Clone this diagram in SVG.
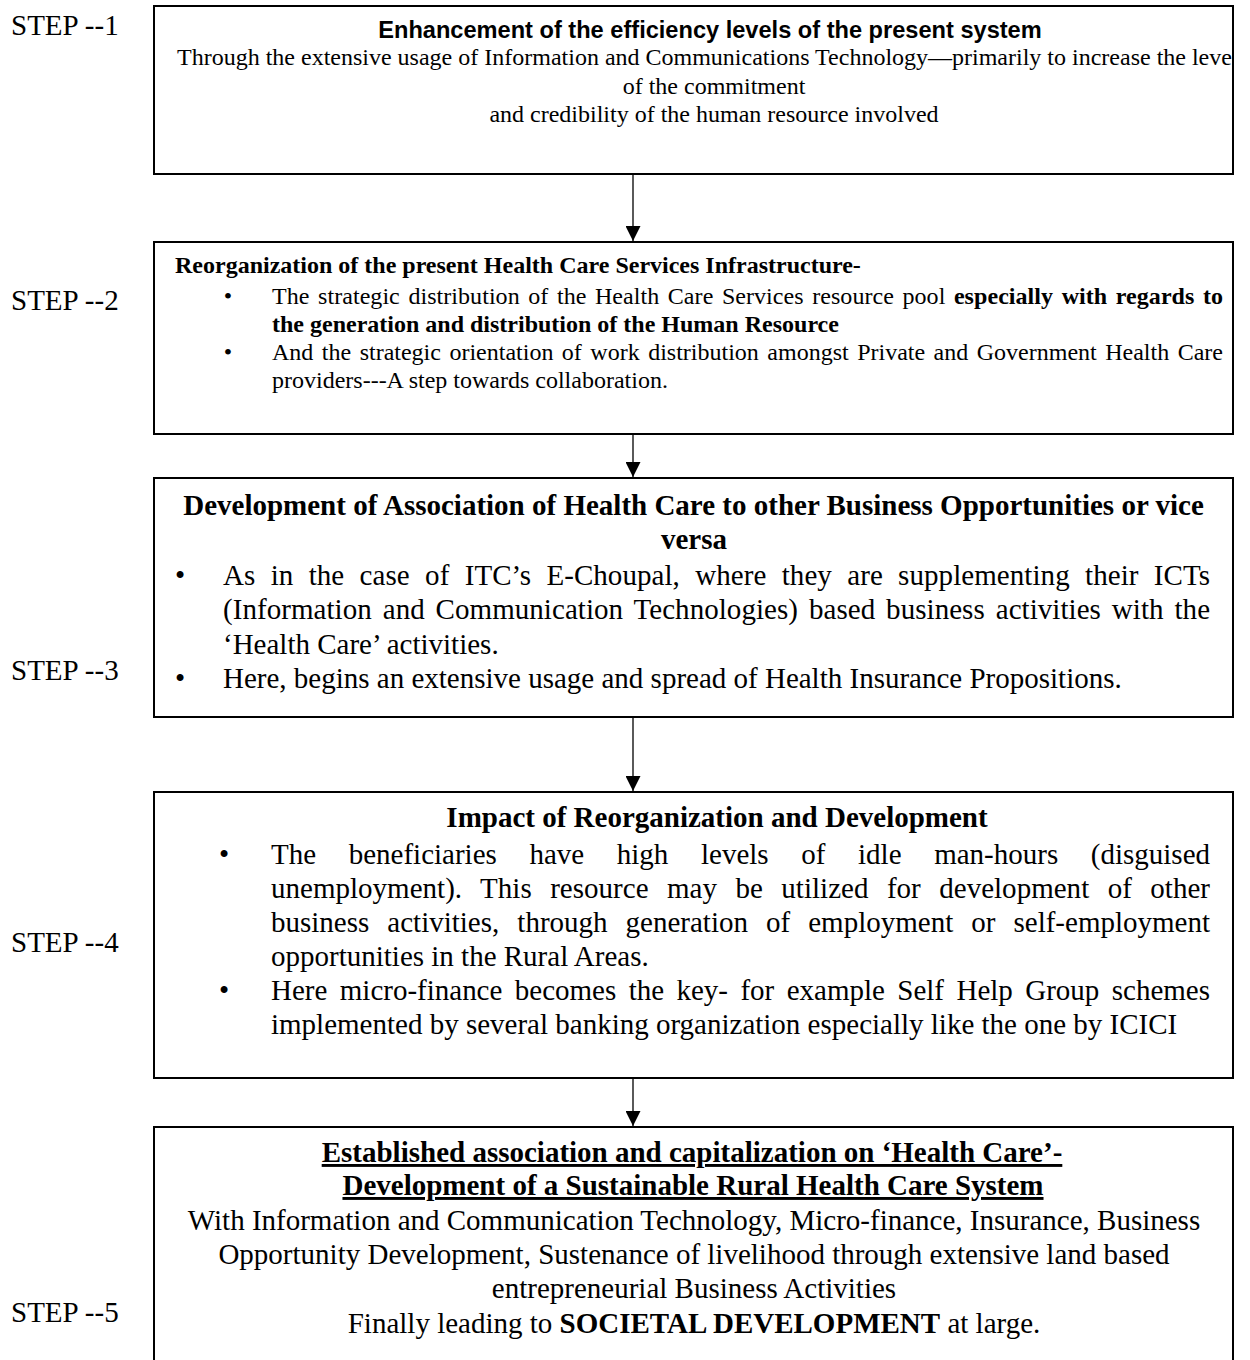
<svg xmlns="http://www.w3.org/2000/svg" width="1250" height="1360" viewBox="0 0 1250 1360">
<style>
.box{fill:none;stroke:#000;stroke-width:2}
.t{font-family:"Liberation Serif","Times New Roman",serif;fill:#000}
.h{font-family:"Liberation Sans",Arial,sans-serif;font-weight:bold;fill:#000}
.s24{font-size:24px}
.s29{font-size:29px}
.b{font-weight:bold}
.c{text-anchor:middle}
.u{text-decoration:underline}
.con{stroke:#000;stroke-width:1.3;fill:none}
</style>
<defs>
<marker id="ah" viewBox="0 0 15 15" refX="15" refY="7.5" markerWidth="15" markerHeight="15" markerUnits="userSpaceOnUse" orient="auto">
<path d="M0,0 L15,7.5 L0,15 z" fill="#000"/>
</marker>
<clipPath id="clip1"><rect x="154" y="6" width="1078" height="168"/></clipPath>
</defs>
<rect width="1250" height="1360" fill="#fff"/>

<g id="labels" class="t s29">
<text x="11" y="35">STEP --1</text>
<text x="11" y="310">STEP --2</text>
<text x="11" y="680">STEP --3</text>
<text x="11" y="952">STEP --4</text>
<text x="11" y="1322">STEP --5</text>
</g>

<g id="step1">
<rect class="box" x="154" y="6" width="1079" height="168"/>
<text class="h c" x="710" y="38" font-size="23.6">Enhancement of the efficiency levels of the present system</text>
<g clip-path="url(#clip1)">
<text class="t s24" x="177" y="65">Through the extensive usage of Information and Communications Technology—primarily to increase the leve</text>
</g>
<text class="t s24 c" x="714" y="93.5">of the commitment</text>
<text class="t s24 c" x="714" y="122">and credibility of the human resource involved</text>
</g>

<g id="step2">
<rect class="box" x="154" y="242" width="1079" height="192"/>
<text class="t s24 b" x="175" y="273">Reorganization of the present Health Care Services Infrastructure-</text>
<text class="t s24 c" x="228" y="304">•</text>
<text class="t s24 c" x="228" y="360">•</text>
<text class="t s24" x="272" y="304" word-spacing="2.5" textLength="951" lengthAdjust="spacing">The strategic distribution of the Health Care Services resource pool <tspan class="b">especially with regards to</tspan></text>
<text class="t s24 b" x="272" y="332">the generation and distribution of the Human Resource</text>
<text class="t s24" x="272" y="360" word-spacing="2.5" textLength="951" lengthAdjust="spacing">And the strategic orientation of work distribution amongst Private and Government Health Care</text>
<text class="t s24" x="272" y="388">providers---A step towards collaboration.</text>
</g>

<g id="step3">
<rect class="box" x="154" y="478" width="1079" height="239"/>
<text class="t s29 b c" x="693.5" y="515">Development of Association of Health Care to other Business Opportunities or vice</text>
<text class="t s29 b c" x="694" y="549">versa</text>
<text class="t s29 c" x="180" y="585">•</text>
<text class="t s29 c" x="180" y="688">•</text>
<text class="t s29" x="223" y="585" word-spacing="8" textLength="987" lengthAdjust="spacing">As in the case of ITC’s E-Choupal, where they are supplementing their ICTs</text>
<text class="t s29" x="223" y="619" word-spacing="3.6" textLength="987" lengthAdjust="spacing">(Information and Communication Technologies) based business activities with the</text>
<text class="t s29" x="223" y="654">‘Health Care’ activities.</text>
<text class="t s29" x="223" y="688">Here, begins an extensive usage and spread of Health Insurance Propositions.</text>
</g>

<g id="step4">
<rect class="box" x="154" y="792" width="1079" height="286"/>
<text class="t s29 b c" x="717" y="827">Impact of Reorganization and Development</text>
<text class="t s29 c" x="224" y="864">•</text>
<text class="t s29 c" x="224" y="1000">•</text>
<text class="t s29" x="271" y="864" word-spacing="25.4" textLength="939" lengthAdjust="spacing">The beneficiaries have high levels of idle man-hours (disguised</text>
<text class="t s29" x="271" y="898" word-spacing="11.2" textLength="939" lengthAdjust="spacing">unemployment). This resource may be utilized for development of other</text>
<text class="t s29" x="271" y="932" word-spacing="10.8" textLength="939" lengthAdjust="spacing">business activities, through generation of employment or self-employment</text>
<text class="t s29" x="271" y="966">opportunities in the Rural Areas.</text>
<text class="t s29" x="271" y="1000" word-spacing="5.2" textLength="939" lengthAdjust="spacing">Here micro-finance becomes the key- for example Self Help Group schemes</text>
<text class="t s29" x="271" y="1034">implemented by several banking organization especially like the one by ICICI</text>
</g>

<g id="step5">
<rect class="box" x="154" y="1127" width="1079" height="250"/>
<text class="t s29 b c u" x="692" y="1162">Established association and capitalization on ‘Health Care’-</text>
<text class="t s29 b c u" x="693" y="1195">Development of a Sustainable Rural Health Care System</text>
<text class="t s29 c" x="694" y="1230">With Information and Communication Technology, Micro-finance, Insurance, Business</text>
<text class="t s29 c" x="694" y="1264">Opportunity Development, Sustenance of livelihood through extensive land based</text>
<text class="t s29 c" x="694" y="1298">entrepreneurial Business Activities</text>
<text class="t s29 c" x="694" y="1333">Finally leading to <tspan class="b">SOCIETAL DEVELOPMENT</tspan> at large.</text>
</g>

<g id="connectors">
<line class="con" x1="633" y1="174" x2="633" y2="241" marker-end="url(#ah)"/>
<line class="con" x1="633" y1="434" x2="633" y2="477" marker-end="url(#ah)"/>
<line class="con" x1="633" y1="717" x2="633" y2="791" marker-end="url(#ah)"/>
<line class="con" x1="633" y1="1078" x2="633" y2="1126" marker-end="url(#ah)"/>
</g>
</svg>
